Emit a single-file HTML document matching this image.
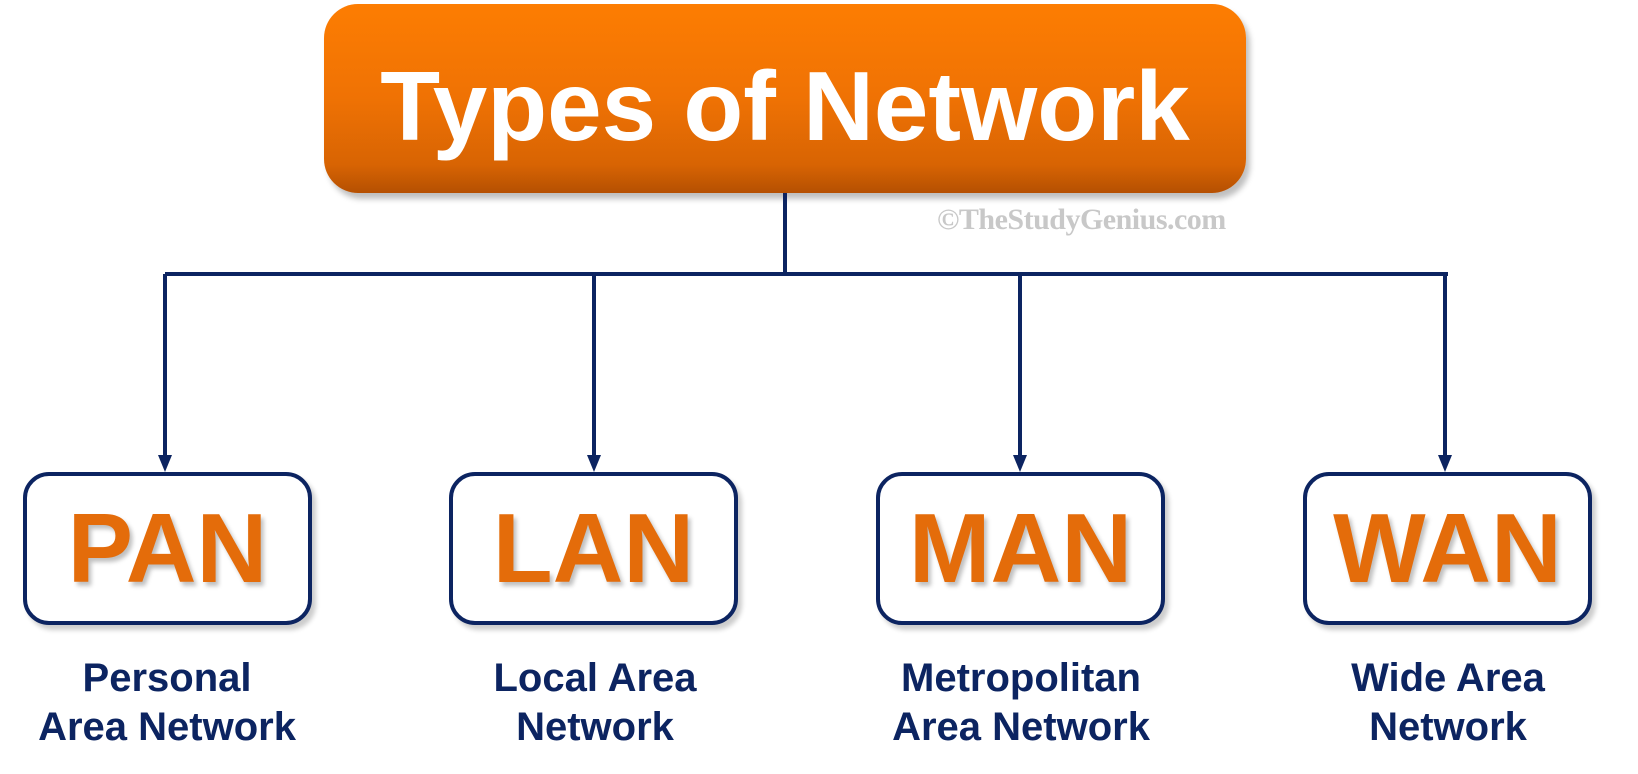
<!DOCTYPE html>
<html><head><style>
body{margin:0;width:1638px;height:774px;background:#fff;position:relative;overflow:hidden;font-family:"Liberation Sans",Arial,sans-serif}
.title{position:absolute;left:324px;top:4px;width:922px;height:189px;border-radius:34px;background:linear-gradient(#fd7d02 0%,#ef7204 50%,#d86403 85%,#b55002 100%);box-shadow:4px 6px 6px rgba(0,0,0,.25)}
.title span{position:absolute;left:0;right:0;top:42px;text-align:center;color:#fff;font-weight:bold;font-size:98px;line-height:120px}
.box{position:absolute;top:472px;width:281px;height:145px;border:4px solid #0c2461;border-radius:26px;background:#fff;box-shadow:4px 5px 5px rgba(0,0,0,.2);text-align:center}
.box span{display:block;color:#e46c0a;font-weight:bold;font-size:98px;line-height:145px;text-shadow:3px 4px 4px rgba(0,0,0,.25)}
.lab{position:absolute;top:654px;width:340px;text-align:center;color:#0c2461;font-weight:bold;font-size:40px;line-height:49px}
.wm{position:absolute;left:937px;top:203px;font-family:"Liberation Serif",serif;font-weight:bold;font-size:30px;color:#c8c8c8;letter-spacing:-0.5px}
</style></head><body>
<div class="title"><span>Types of Network</span></div>
<div class="wm">©TheStudyGenius.com</div>
<svg width="1638" height="774" style="position:absolute;left:0;top:0">
<g stroke="#0c2461" stroke-width="4" fill="none">
<line x1="785" y1="193" x2="785" y2="274"/>
<line x1="165" y1="274" x2="1448" y2="274"/>
<line x1="165" y1="274" x2="165" y2="458"/>
<line x1="594" y1="274" x2="594" y2="458"/>
<line x1="1020" y1="274" x2="1020" y2="458"/>
<line x1="1445" y1="274" x2="1445" y2="458"/>
</g>
<g fill="#0c2461">
<polygon points="158,455 172,455 165,472"/>
<polygon points="587,455 601,455 594,472"/>
<polygon points="1013,455 1027,455 1020,472"/>
<polygon points="1438,455 1452,455 1445,472"/>
</g>
</svg>
<div class="box" style="left:23px"><span>PAN</span></div>
<div class="box" style="left:449px"><span>LAN</span></div>
<div class="box" style="left:876px"><span>MAN</span></div>
<div class="box" style="left:1303px"><span>WAN</span></div>
<div class="lab" style="left:-3px">Personal<br>Area Network</div>
<div class="lab" style="left:425px">Local Area<br>Network</div>
<div class="lab" style="left:851px">Metropolitan<br>Area Network</div>
<div class="lab" style="left:1278px">Wide Area<br>Network</div>
</body></html>
